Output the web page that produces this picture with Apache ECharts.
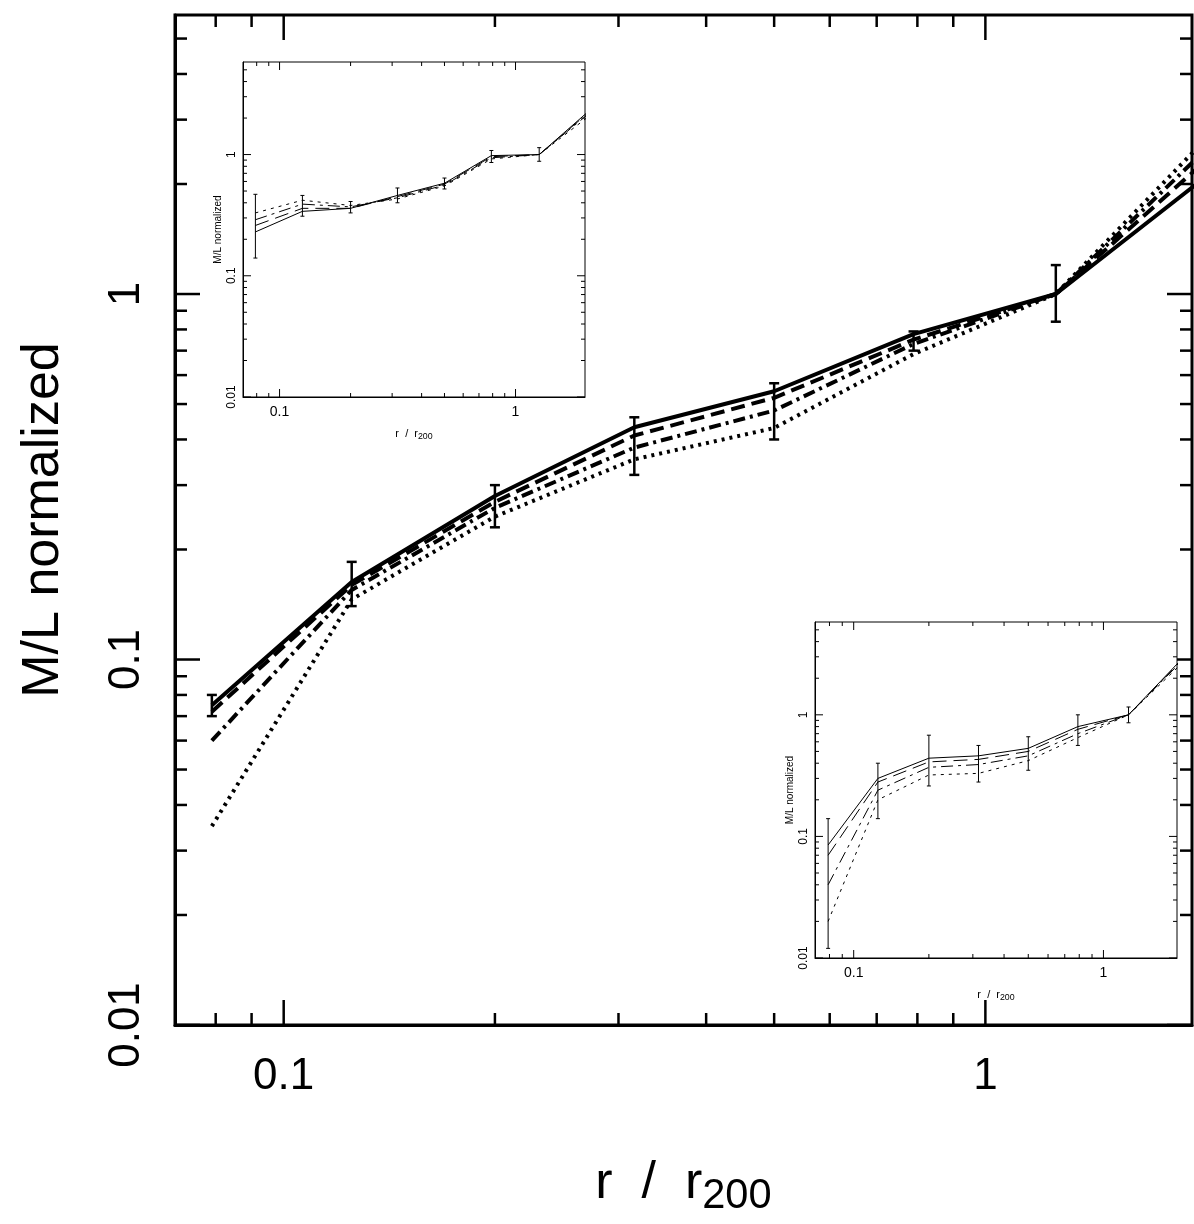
<!DOCTYPE html>
<html><head><meta charset="utf-8">
<script src="https://cdn.jsdelivr.net/npm/echarts@6/dist/echarts.min.js"></script>
<style>html,body{margin:0;background:#fff}#c{width:1194px;height:1224px}</style>
</head><body><div id="c"></div>
<script>
// radii (r / r200) of the bins
var radii = [0.079, 0.125, 0.2, 0.316, 0.5, 0.79, 1.26, 2.0];

// main panel
var mainSolid   = [0.075, 0.163, 0.28, 0.432, 0.542, 0.777, 1.0, 2.0];
var mainDashed  = [0.072, 0.160, 0.27, 0.41, 0.52, 0.75, 1.0, 2.2];
var mainDashDot = [0.060, 0.155, 0.26, 0.38, 0.48, 0.73, 1.0, 2.35];
var mainDotted  = [0.035, 0.146, 0.246, 0.353, 0.43, 0.685, 1.0, 2.5];
var mainErrLo   = [0.070, 0.14, 0.23, 0.32, 0.40, 0.70, 0.84];
var mainErrHi   = [0.080, 0.185, 0.30, 0.46, 0.57, 0.79, 1.20];

// upper-left inset
var upSolid   = [0.23, 0.34, 0.36, 0.46, 0.58, 0.98, 1.0, 2.2];
var upDashed  = [0.26, 0.36, 0.36, 0.45, 0.57, 0.96, 1.0, 2.15];
var upDashDot = [0.29, 0.39, 0.37, 0.44, 0.56, 0.94, 1.0, 2.1];
var upDotted  = [0.33, 0.42, 0.38, 0.43, 0.55, 0.92, 1.0, 2.0];
var upErrLo   = [0.14, 0.31, 0.33, 0.40, 0.52, 0.86, 0.88];
var upErrHi   = [0.47, 0.46, 0.41, 0.53, 0.64, 1.08, 1.14];

// lower-right inset
var lrSolid   = [0.085, 0.30, 0.44, 0.46, 0.53, 0.80, 1.0, 2.7];
var lrDashed  = [0.07, 0.28, 0.41, 0.43, 0.50, 0.76, 1.0, 2.65];
var lrDashDot = [0.04, 0.24, 0.37, 0.39, 0.46, 0.70, 1.0, 2.6];
var lrDotted  = [0.02, 0.20, 0.32, 0.33, 0.42, 0.65, 1.0, 2.5];
var lrErrLo   = [0.012, 0.14, 0.26, 0.28, 0.35, 0.56, 0.86];
var lrErrHi   = [0.14, 0.40, 0.68, 0.56, 0.66, 1.00, 1.16];

var xMajor = [0.1, 1];
var xMinor = [0.08, 0.09, 0.2, 0.3, 0.4, 0.5, 0.6, 0.7, 0.8, 0.9];
var yMajor = [0.01, 0.1, 1];
var yMinor = [0.02,0.03,0.04,0.05,0.06,0.07,0.08,0.09,0.2,0.3,0.4,0.5,0.6,0.7,0.8,0.9,2,3,4,5];

var XMIN = 0.07, XMAX = 1.97, YMIN = 0.01, YMAX = 5.8;
var FONT = 'Liberation Sans, DejaVu Sans, sans-serif';

function pairs(ys) { return radii.map(function (x, i) { return [x, ys[i]]; }); }

var styles = [
  {type: 'solid'}, {type: [14, 7]}, {type: [12, 5, 3, 5]}, {type: [3, 5]}
];

function lines(gi, sets, w, zl) {
  return sets.map(function (s, k) {
    return {
      type: 'line', xAxisIndex: gi, yAxisIndex: gi, data: pairs(s), symbol: 'none',
      zlevel: zl, z: 3,
      lineStyle: {color: '#000', width: w, type: styles[k].type, cap: 'butt'}
    };
  });
}

function errBars(gi, lo, hi, w, cap, zl) {
  var d = lo.map(function (l, i) { return [radii[i], l, hi[i]]; });
  return {
    type: 'custom', xAxisIndex: gi, yAxisIndex: gi, data: d, zlevel: zl, z: 4,
    renderItem: function (p, api) {
      var a = api.coord([api.value(0), api.value(1)]);
      var b = api.coord([api.value(0), api.value(2)]);
      var st = {stroke: '#000', lineWidth: w};
      return {type: 'group', children: [
        {type: 'line', shape: {x1: a[0], y1: a[1], x2: b[0], y2: b[1]}, style: st},
        {type: 'line', shape: {x1: a[0]-cap, y1: a[1], x2: a[0]+cap, y2: a[1]}, style: st},
        {type: 'line', shape: {x1: b[0]-cap, y1: b[1], x2: b[0]+cap, y2: b[1]}, style: st}
      ]};
    }
  };
}

function ticks(gi, big, small, w, zl) {
  var d = [];
  xMajor.forEach(function (v) { d.push([0, v, 1]); });
  xMinor.forEach(function (v) { d.push([0, v, 0]); });
  yMajor.forEach(function (v) { d.push([1, v, 1]); });
  yMinor.forEach(function (v) { d.push([1, v, 0]); });
  return {
    type: 'custom', xAxisIndex: gi, yAxisIndex: gi, data: d, zlevel: zl, z: 5, clip: false,
    renderItem: function (p, api) {
      var axis = api.value(0), v = api.value(1), L = api.value(2) ? big : small;
      var st = {stroke: '#000', lineWidth: w};
      if (axis === 0) {
        var b = api.coord([v, YMIN]), t = api.coord([v, YMAX]);
        return {type: 'group', children: [
          {type: 'line', shape: {x1: b[0], y1: b[1], x2: b[0], y2: b[1]-L}, style: st},
          {type: 'line', shape: {x1: t[0], y1: t[1], x2: t[0], y2: t[1]+L}, style: st}
        ]};
      }
      var l = api.coord([XMIN, v]), r = api.coord([XMAX, v]);
      return {type: 'group', children: [
        {type: 'line', shape: {x1: l[0], y1: l[1], x2: l[0]+L, y2: l[1]}, style: st},
        {type: 'line', shape: {x1: r[0], y1: r[1], x2: r[0]-L, y2: r[1]}, style: st}
      ]};
    }
  };
}

function xAx(gi, fs, nfs, gap, margin, zl) {
  return {
    type: 'log', gridIndex: gi, min: XMIN, max: XMAX, logBase: 10, zlevel: zl,
    axisLine: {lineStyle: {color: '#000', width: gi ? 1 : 3}},
    axisTick: {show: false}, splitLine: {show: false},
    axisLabel: {fontSize: fs, color: '#000', fontFamily: FONT, margin: margin,
      formatter: function (v) { return (Math.abs(v - 0.1) < 1e-6 || Math.abs(v - 1) < 1e-6) ? String(+v.toPrecision(3)) : ''; }},
    name: 'r  /  r{s|200}', nameLocation: 'middle', nameGap: gap,
    nameTextStyle: {fontSize: nfs, color: '#000', fontFamily: FONT,
      rich: {s: {fontSize: nfs * 0.8, verticalAlign: 'bottom', padding: [nfs * 0.5, 0, 0, 0], fontFamily: FONT}}}
  };
}
function yAx(gi, fs, nfs, gap, margin, zl) {
  return {
    type: 'log', gridIndex: gi, min: YMIN, max: YMAX, logBase: 10, zlevel: zl,
    axisLine: {lineStyle: {color: '#000', width: gi ? 1 : 3}},
    axisTick: {show: false}, splitLine: {show: false},
    axisLabel: {fontSize: fs, color: '#000', fontFamily: FONT, rotate: 90, margin: margin,
      formatter: function (v) { var ok = [0.01, 0.1, 1].some(function (m) { return Math.abs(v / m - 1) < 1e-6; }); return ok ? String(+v.toPrecision(3)) : ''; }},
    name: 'M/L normalized', nameLocation: 'middle', nameGap: gap,
    nameTextStyle: {fontSize: nfs, color: '#000', fontFamily: FONT}
  };
}

var option = {
  animation: false,
  backgroundColor: '#fff',
  grid: [
    {left: 175, top: 15, width: 1017, height: 1010, show: true, borderColor: '#000', borderWidth: 3, outerBoundsMode: 'none'},
    {left: 243, top: 62, width: 342, height: 335, show: true, borderColor: '#000', borderWidth: 1, backgroundColor: '#fff', zlevel: 1, outerBoundsMode: 'none'},
    {left: 815, top: 622, width: 362, height: 336, show: true, borderColor: '#000', borderWidth: 1, backgroundColor: '#fff', zlevel: 1, outerBoundsMode: 'none'}
  ],
  xAxis: [xAx(0, 44, 52, 125, 30, 0), xAx(1, 14, 11, 30, 8, 1), xAx(2, 14, 11, 30, 8, 1)],
  yAxis: [yAx(0, 44, 52, 105, 26, 0), yAx(1, 12, 10, 20, 5, 1), yAx(2, 12, 10, 20, 5, 1)],
  series: []
    .concat(lines(0, [mainSolid, mainDashed, mainDashDot, mainDotted], 4, 0))
    .concat([errBars(0, mainErrLo, mainErrHi, 2.5, 5, 0), ticks(0, 25, 12, 2.5, 0)])
    .concat(lines(1, [upSolid, upDashed, upDashDot, upDotted], 1, 1))
    .concat([errBars(1, upErrLo, upErrHi, 1, 2, 1), ticks(1, 8, 4, 1, 1)])
    .concat(lines(2, [lrSolid, lrDashed, lrDashDot, lrDotted], 1, 1))
    .concat([errBars(2, lrErrLo, lrErrHi, 1, 2, 1), ticks(2, 8, 4, 1, 1)])
};

var chart = echarts.init(document.getElementById('c'));
chart.setOption(option);
</script></body></html>
